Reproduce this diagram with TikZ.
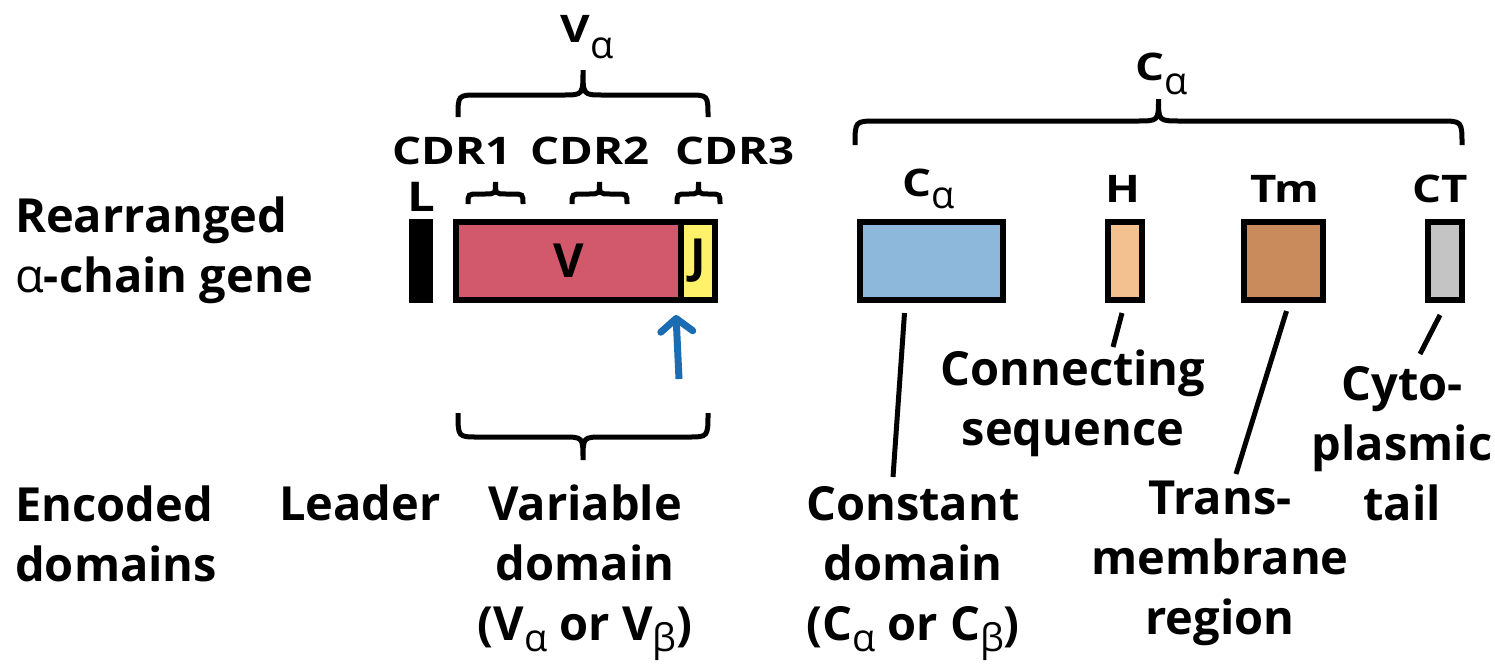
\documentclass[tikz,border=0pt]{standalone}
\usepackage{fontspec}
\setmainfont{Open Sans}
\newfontfamily\grk{Open Sans}
\newfontfamily\widefam{Open Sans}[FakeStretch=1.2]
\usetikzlibrary{arrows.meta,calc}
\pgfdeclarelayer{background}
\pgfsetlayers{background,main}
\definecolor{vred}{HTML}{D2586B}
\definecolor{jyel}{HTML}{FFF26A}
\definecolor{cblue}{HTML}{8DB8DC}
\definecolor{hpeach}{HTML}{F3C08F}
\definecolor{tmbrown}{HTML}{C98A5C}
\definecolor{ctgray}{HTML}{C4C4C4}
\definecolor{arrblue}{HTML}{1B6DB3}
\newcommand{\gsub}[3]{\raisebox{-#3pt}{\grk\mdseries\fontsize{#2pt}{#2pt}\selectfont #1}}
\newcommand{\galpha}{{\grk\mdseries α}}
\newcommand{\mybrace}[6]{%
 \draw[brc] (#1,#3) .. controls (#1,#4) .. ({#1+#6},#4) -- ({(#1+#2)/2-#6},#4)
   .. controls ({(#1+#2)/2},#4) .. ({(#1+#2)/2},#5)
   .. controls ({(#1+#2)/2},#4) .. ({(#1+#2)/2+#6},#4) -- ({#2-#6},#4)
   .. controls (#2,#4) .. (#2,#3);}
\tikzset{
  big/.style={font=\fontsize{47}{60}\selectfont\bfseries, inner sep=0pt},
  mid/.style={font=\widefam\fontsize{38}{46}\selectfont\bfseries, inner sep=0pt},
  genebox/.style={draw=black, line width=6pt, inner sep=0pt, minimum height=78pt,
    font=\fontsize{47}{50}\selectfont\bfseries},
  conn/.style={line width=5pt},
  brc/.style={line width=5pt},
}
\begin{document}
\begin{tikzpicture}[x=1pt,y=-1pt]
\useasboundingbox[fill=white] (0,0) rectangle (1495,667);

% left labels (anchor = baseline of last line)
\node[big, anchor=base west, align=left] (rearr) at (15,292) {Rearranged\\\galpha-chain gene};
\node[big, anchor=base west, align=left] (enc) at (15,581) {Encoded\\domains};

% gene boxes
\node[genebox, fill=black, minimum width=18pt] (L) at (421,261) {};
\node[genebox, fill=vred, minimum width=225pt] (V) at (568.5,261) {V};
\node[genebox, fill=jyel, minimum width=34pt] (J) at (698,261) {J};
\node[genebox, fill=cblue, minimum width=143pt] (Cb) at (931.5,261) {};
\node[genebox, fill=hpeach, minimum width=34pt] (H) at (1125,261) {};
\node[genebox, fill=tmbrown, minimum width=79pt] (Tm) at (1283.5,261) {};
\node[genebox, fill=ctgray, minimum width=34pt] (CT) at (1445,261) {};
\begin{pgfonlayer}{background}
\draw[conn] (L.center) -- (CT.center);
\end{pgfonlayer}

% labels above boxes
\node[mid, anchor=base, font=\widefam\fontsize{41}{46}\selectfont\bfseries] (Llab) at (421,211) {L};
\node[mid, anchor=base] (cdr1) at (452,164) {CDR1};
\node[mid, anchor=base] (cdr2) at (590,164) {CDR2};
\node[mid, anchor=base] (cdr3) at (735,164) {CDR3};
\node[mid, anchor=base] (Va) at (587,42) {V\gsub{α}{38}{16}};
\node[mid, anchor=base] (Calab) at (929,196) {C\gsub{α}{38}{12}};
\node[mid, anchor=base] (Hlab) at (1123,202) {H};
\node[mid, anchor=base] (Tmlab) at (1285,202) {Tm};
\node[mid, anchor=base] (CTlab) at (1440,202) {CT};
\node[mid, anchor=base] (Ctop) at (1162,80) {C\gsub{α}{38}{14}};

% braces
\mybrace{458}{708}{117}{95}{70}{20}
\mybrace{855}{1462}{145}{121}{99}{22}
\mybrace{468}{523}{204}{194}{182}{11}
\mybrace{572}{627}{204}{194}{182}{11}
\mybrace{677}{720}{204}{194}{182}{10}
\mybrace{458}{708}{413}{437}{460}{20}

% recombination arrow
\coordinate (arrtail) at (679,379);
\draw[arrblue, line width=7pt, -{Straight Barb[length=13pt,width=32pt,round]}]
  (arrtail) -- ([xshift=-2pt,yshift=-12pt]J.south west);

% bottom labels (anchor = baseline of last line)
\node[big, anchor=base] (leader) at (360,520) {Leader};
\node[big, anchor=base, align=center] (vdom) at (585,640)
  {Variable\\domain\\(V\gsub{α}{38}{11} or V\gsub{β}{38}{11})};
\node[big, anchor=base, align=center] (cdom) at (913,640)
  {Constant\\domain\\(C\gsub{α}{38}{11} or C\gsub{β}{38}{11})};
\node[big, anchor=base, align=center] (conseq) at (1073,445) {Connecting\\sequence};
\node[big, anchor=base, align=center] (tmreg) at (1220,634) {Trans-\\membrane\\region};
\node[big, anchor=base, align=center] (cyto) at (1402,520) {Cyto-\\plasmic\\tail};

% connectors
\draw[conn] ([xshift=-27pt,yshift=-10pt]Cb.south) -- (893,477);
\draw[conn] ([xshift=-3pt,yshift=-10pt]H.south) -- (1113,347);
\draw[conn] ([xshift=3pt,yshift=-8pt]Tm.south) -- (1236,474);
\draw[conn] ([xshift=-5pt,yshift=-12pt]CT.south) -- (1420,354);
\end{tikzpicture}
\end{document}
